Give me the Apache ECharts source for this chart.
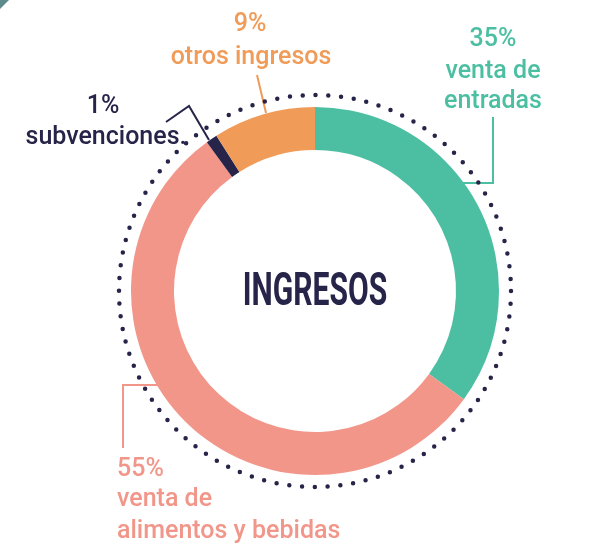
<!DOCTYPE html>
<html>
<head>
<meta charset="utf-8">
<script src="https://cdn.jsdelivr.net/npm/echarts@6/dist/echarts.min.js"></script>
<style>
  html, body { margin: 0; padding: 0; background: #fff; }
  #chart { width: 600px; height: 543px; }
</style>
</head>
<body>
<div id="chart"></div>
<script>
// datos
var categories = ['venta de entradas', 'venta de alimentos y bebidas', 'subvenciones', 'otros ingresos'];
var values = [35, 55, 1, 9];
var colors = ['#4cbfa3', '#f2968a', '#262448', '#f09b58'];
var labelLines = [
  ['35%', 'venta de', 'entradas'],
  ['55%', 'venta de', 'alimentos y bebidas'],
  ['1%', 'subvenciones.'],
  ['9%', 'otros ingresos']
];

var cx = 315, cy = 291;
var font = 'Roboto, sans-serif';

var chart1 = echarts.init(document.getElementById('chart'));

function textEl(str, x, y, color, align) {
  return {
    type: 'text',
    x: x,
    y: y,
    style: {
      text: str,
      fill: color,
      font: '500 25px ' + font,
      textAlign: align || 'center',
      textVerticalAlign: 'middle'
    }
  };
}

function lineEl(points, color) {
  return {
    type: 'polyline',
    shape: { points: points },
    style: { stroke: color, lineWidth: 2, fill: null }
  };
}

var graphics = [
  // esquina gris
  { type: 'polygon', shape: { points: [[0, 0], [9, 0], [0, 9]] }, style: { fill: '#5f8a8c' } },
  // circulo punteado
  {
    type: 'circle',
    shape: { cx: cx, cy: cy, r: 196 },
    style: { fill: null, stroke: '#262448', lineWidth: 4.5, lineDash: [0, 12.83], lineCap: 'round' },
    z: 1
  },
  // titulo
  {
    type: 'text',
    x: cx,
    y: cy + 2,
    scaleX: 0.64,
    style: {
      text: 'INGRESOS',
      fill: '#262448',
      font: 'bold 47px Roboto, sans-serif',
      textAlign: 'center',
      textVerticalAlign: 'middle'
    }
  },
  // etiquetas
  textEl(labelLines[0][0], 493, 40, colors[0]),
  textEl(labelLines[0][1], 493, 72, colors[0]),
  textEl(labelLines[0][2], 493, 102, colors[0]),
  lineEl([[493, 117], [493, 183], [462, 183]], colors[0]),

  textEl(labelLines[1][0], 117, 470, colors[1], 'left'),
  textEl(labelLines[1][1], 117, 500, colors[1], 'left'),
  textEl(labelLines[1][2], 117, 532, colors[1], 'left'),
  lineEl([[158, 385], [123, 385], [123, 448]], colors[1]),

  textEl(labelLines[2][0], 103, 107, colors[2]),
  textEl(labelLines[2][1], 106, 138, colors[2]),
  lineEl([[166, 122], [189, 106], [209, 140]], colors[2]),

  textEl(labelLines[3][0], 250, 25, colors[3]),
  textEl(labelLines[3][1], 251, 58, colors[3]),
  lineEl([[257, 75], [266, 113]], colors[3])
];

var option = {
  backgroundColor: '#fff',
  animation: false,
  graphic: graphics,
  series: [{
    type: 'pie',
    center: [cx, cy],
    radius: [141, 184],
    startAngle: 90,
    clockwise: true,
    silent: true,
    label: { show: false },
    labelLine: { show: false },
    itemStyle: { borderWidth: 0 },
    data: categories.map(function (c, i) {
      return { name: c, value: values[i], itemStyle: { color: colors[i] } };
    })
  }]
};
chart1.setOption(option, true);
</script>
</body>
</html>
